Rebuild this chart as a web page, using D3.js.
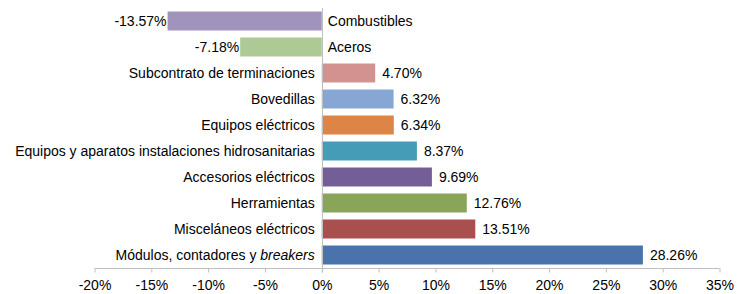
<!DOCTYPE html>
<html>
<head>
<meta charset="utf-8">
<script src="https://cdn.jsdelivr.net/npm/d3@7"></script>
<style>
  body { margin: 0; background: #fff; }
  text { font-family: "Liberation Sans", Arial, sans-serif; fill: #000; }
</style>
</head>
<body>
<div id="vizContainer"></div>
<script>
let w = 748;
let h = 294;
let fontSize = "14px";

// data, top to bottom
let categories = [
  "Combustibles",
  "Aceros",
  "Subcontrato de terminaciones",
  "Bovedillas",
  "Equipos eléctricos",
  "Equipos y aparatos instalaciones hidrosanitarias",
  "Accesorios eléctricos",
  "Herramientas",
  "Misceláneos eléctricos",
  "Módulos, contadores y breakers"
];
let values = [-13.57, -7.18, 4.70, 6.32, 6.34, 8.37, 9.69, 12.76, 13.51, 28.26];
let barColors = ["#a094bc", "#adc995", "#d39190", "#88a6d4", "#dd8546",
                 "#449cb6", "#735e98", "#88a55a", "#a94f4e", "#4b73ab"];
let tickValues = [-20, -15, -10, -5, 0, 5, 10, 15, 20, 25, 30, 35];

let data = categories.map((c, i) => ({cat: c, value: values[i], color: barColors[i]}));

let viz = d3.select("#vizContainer").append("svg")
    .attr("width", w)
    .attr("height", h)
;

let xScale = d3.scaleLinear().domain([-20, 35]).range([94.5, 719.5]);
let yScale = d3.scaleBand().domain(categories).range([8, 268]).paddingInner(0.27).paddingOuter(0.135);

// x axis
let xAxis = d3.axisBottom(xScale)
    .tickValues(tickValues)
    .tickSize(4)
    .tickFormat(d => d + "%");
let xAxisGroup = viz.append("g")
    .attr("class", "xaxisgroup")
    .attr("transform", "translate(0,268.5)")
;
xAxisGroup.call(xAxis);
xAxisGroup.select(".domain").attr("stroke", "#bfbfbf").attr("d", "M" + xScale(-20) + ",0H" + xScale(35));
xAxisGroup.selectAll(".tick line").attr("stroke", "#bfbfbf");
xAxisGroup.selectAll(".tick text")
    .attr("y", 12)
    .style("font-size", fontSize)
    .style("font-family", "Liberation Sans, Arial, sans-serif")
;

// bars
let bars = viz.append("g").attr("class", "bars");
bars.selectAll("rect").data(data).enter()
  .append("rect")
    .attr("x", d => xScale(Math.min(0, d.value)))
    .attr("y", d => yScale(d.cat))
    .attr("width", d => Math.abs(xScale(d.value) - xScale(0)))
    .attr("height", yScale.bandwidth())
    .attr("fill", d => d.color)
;

// zero line
viz.append("line")
    .attr("x1", Math.round(xScale(0)) + 0.5)
    .attr("x2", Math.round(xScale(0)) + 0.5)
    .attr("y1", 8)
    .attr("y2", 272.5)
    .attr("stroke", "#bfbfbf")
;

// category labels
let catLabels = viz.append("g").attr("class", "catlabels");
catLabels.selectAll("text").data(data).enter()
  .append("text")
    .attr("x", d => d.value < 0 ? xScale(0) + 6 : xScale(0) - 7)
    .attr("y", d => yScale(d.cat) + yScale.bandwidth() / 2)
    .attr("dy", "0.35em")
    .attr("text-anchor", d => d.value < 0 ? "start" : "end")
    .style("font-size", fontSize)
    .each(function(d){
      let t = d3.select(this);
      if (d.cat.endsWith("breakers")) {
        t.append("tspan").text(d.cat.replace("breakers", ""));
        t.append("tspan").style("font-style", "italic").text("breakers");
      } else {
        t.text(d.cat);
      }
    })
;

// value labels
let valLabels = viz.append("g").attr("class", "vallabels");
valLabels.selectAll("text").data(data).enter()
  .append("text")
    .attr("x", d => d.value < 0 ? xScale(d.value) - 1 : xScale(d.value) + 7)
    .attr("y", d => yScale(d.cat) + yScale.bandwidth() / 2)
    .attr("dy", "0.35em")
    .attr("text-anchor", d => d.value < 0 ? "end" : "start")
    .style("font-size", fontSize)
    .text(d => d.value.toFixed(2) + "%")
;
</script>
</body>
</html>
